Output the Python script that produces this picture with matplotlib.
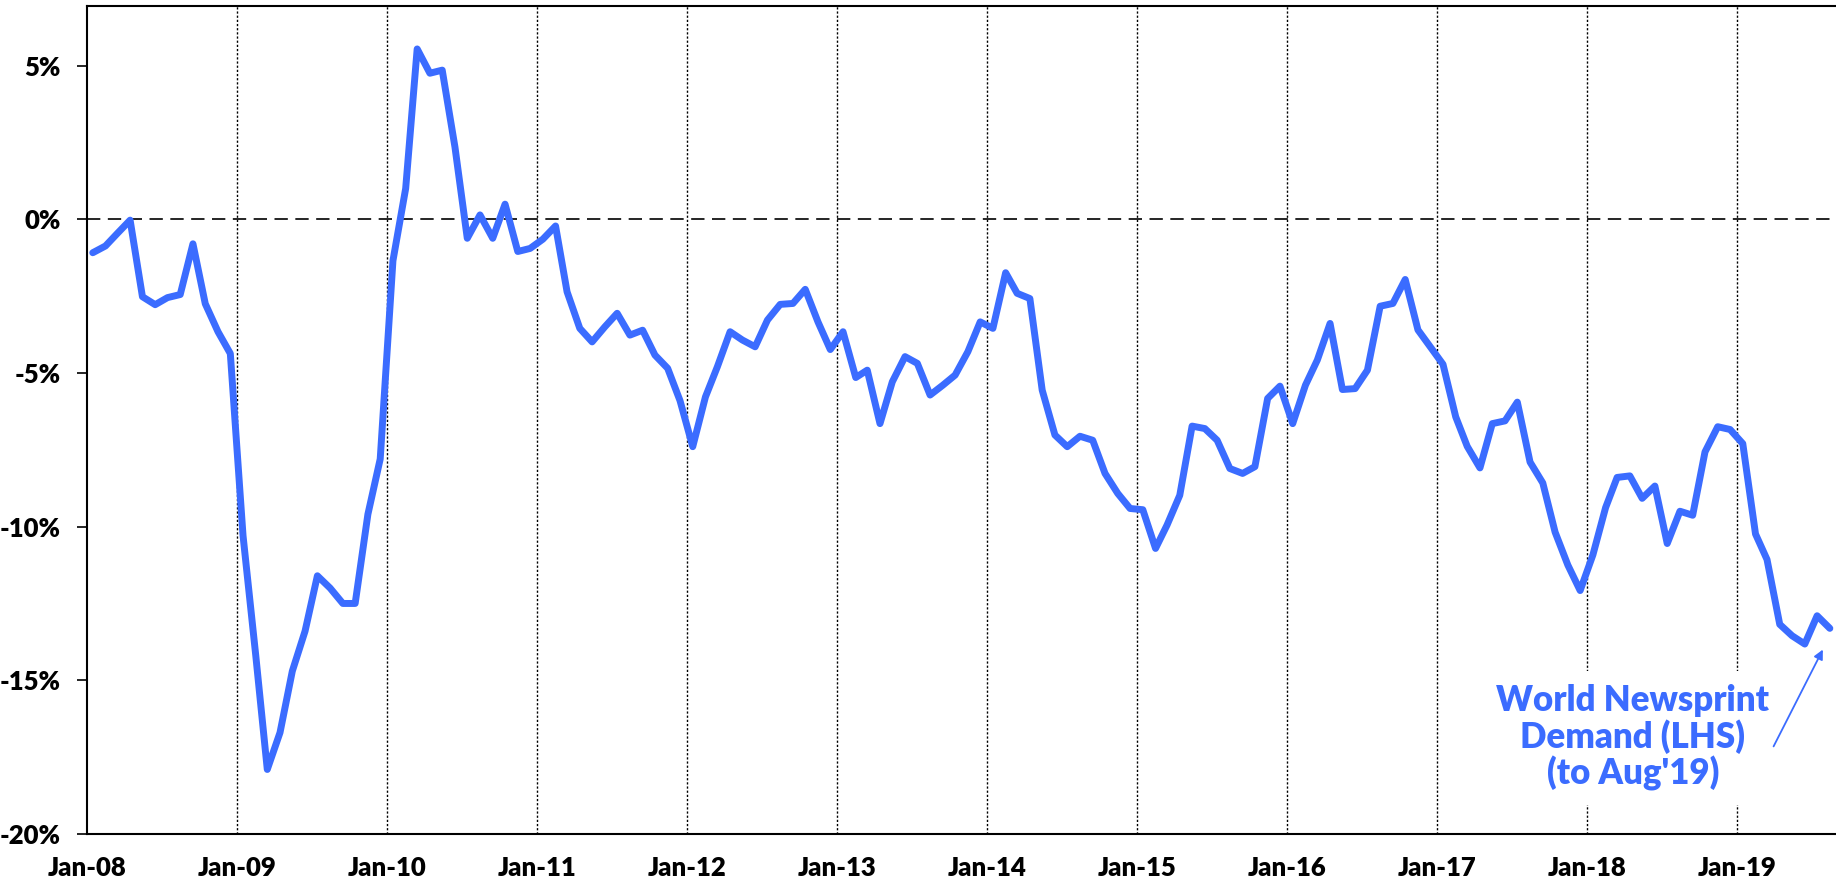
import numpy as np
import pandas as pd
import matplotlib
matplotlib.use("Agg")
import matplotlib.pyplot as plt
from datetime import datetime

# ---- data (YoY % change, monthly Jan-08 .. Aug-19) ----
y2008 = [-1.09, -0.87, -0.46, -0.03, -2.52, -2.78, -2.55, -2.45, -0.80, -2.75, -3.66, -4.37]
y2009 = [-10.3, -14.2, -17.9, -16.7, -14.7, -13.4, -11.6, -12.0, -12.5, -12.5, -9.6, -7.8]
y2010 = [-1.35, 1.0, 5.54, 4.75, 4.85, 2.35, -0.62, 0.14, -0.62, 0.49, -1.05, -0.95]
y2011 = [-0.65, -0.22, -2.36, -3.55, -3.99, -3.5, -3.06, -3.77, -3.61, -4.42, -4.85, -5.9]
y2012 = [-7.4, -5.78, -4.8, -3.66, -3.93, -4.15, -3.28, -2.77, -2.74, -2.28, -3.34, -4.24]
y2013 = [-3.66, -5.15, -4.91, -6.65, -5.29, -4.47, -4.69, -5.72, -5.4, -5.07, -4.31, -3.34]
y2014 = [-3.55, -1.74, -2.41, -2.58, -5.56, -7.02, -7.4, -7.06, -7.19, -8.27, -8.92, -9.41]
y2015 = [-9.45, -10.71, -9.95, -8.98, -6.73, -6.81, -7.19, -8.11, -8.27, -8.05, -5.83, -5.43]
y2016 = [-6.65, -5.4, -4.58, -3.39, -5.54, -5.51, -4.91, -2.83, -2.74, -1.96, -3.6, -4.15]
y2017 = [-4.72, -6.43, -7.39, -8.09, -6.65, -6.56, -5.95, -7.9, -8.58, -10.18, -11.25, -12.08]
y2018 = [-10.92, -9.38, -8.4, -8.35, -9.08, -8.68, -10.55, -9.5, -9.63, -7.57, -6.75, -6.84]
y2019 = [-7.3, -10.24, -11.07, -13.18, -13.55, -13.82, -12.9, -13.31]

values = np.array(y2008 + y2009 + y2010 + y2011 + y2012 + y2013 + y2014 +
                  y2015 + y2016 + y2017 + y2018 + y2019)
months = pd.date_range("2008-01-01", periods=len(values), freq="MS") + pd.Timedelta(days=14)

year_ticks = pd.date_range("2008-01-01", "2019-01-01", freq="YS")
year_labels = ["Jan-08", "Jan-09", "Jan-10", "Jan-11", "Jan-12", "Jan-13",
               "Jan-14", "Jan-15", "Jan-16", "Jan-17", "Jan-18", "Jan-19"]
y_ticks = [5, 0, -5, -10, -15, -20]
y_labels = ["5%", "0%", "-5%", "-10%", "-15%", "-20%"]

BLUE = "#3b6cff"
FONT = "Lato"

fig = plt.figure(figsize=(18.36, 8.86), dpi=100)
ax = fig.add_axes([87 / 1836, 1 - 834 / 886, 1 - 87 / 1836, (834 - 5.6) / 886])

ax.set_xlim(datetime(2008, 1, 1), datetime(2019, 8, 30))
ax.set_ylim(-20, 6.95)

# vertical dotted gridlines at each January
for d in year_ticks[1:]:
    ax.axvline(d, color="black", lw=1.0, ls=(0, (1.6, 1.4)), zorder=1)
# zero line
ax.axhline(0, color="black", lw=1.2, ls=(0, (8, 4.5)), zorder=1)

ax.plot(months, values, color=BLUE, lw=5.0, solid_joinstyle="round",
        solid_capstyle="round", zorder=3)

ax.set_xticks(year_ticks)
ax.set_xticklabels(year_labels)
ax.set_yticks(y_ticks)
ax.set_yticklabels(y_labels)
ax.tick_params(axis="x", length=0, pad=16)
ax.tick_params(axis="y", length=7, width=1.2, direction="out", pad=12)
for lab in ax.get_xticklabels() + ax.get_yticklabels():
    lab.set_fontfamily(FONT)
    lab.set_fontweight("heavy")
    lab.set_fontsize(18.5)

for s in ["left", "bottom", "top"]:
    ax.spines[s].set_linewidth(1.5)
    ax.spines[s].set_color("black")
ax.spines["right"].set_visible(False)

ax.text(datetime(2018, 4, 22), -16.87, "World Newsprint\nDemand (LHS)\n(to Aug'19)",
        ha="center", va="center", color=BLUE, fontsize=25, fontweight="heavy",
        family=FONT, linespacing=1.08, zorder=4,
        bbox=dict(facecolor="white", edgecolor="none", pad=10))

ax.annotate("", xy=(datetime(2019, 7, 29), -14.0), xytext=(datetime(2019, 3, 31), -17.15),
            arrowprops=dict(arrowstyle="-|>", color=BLUE, lw=1.3, mutation_scale=14,
                            shrinkA=0, shrinkB=0), zorder=5)

fig.savefig("out.png", dpi=100, facecolor="white")
